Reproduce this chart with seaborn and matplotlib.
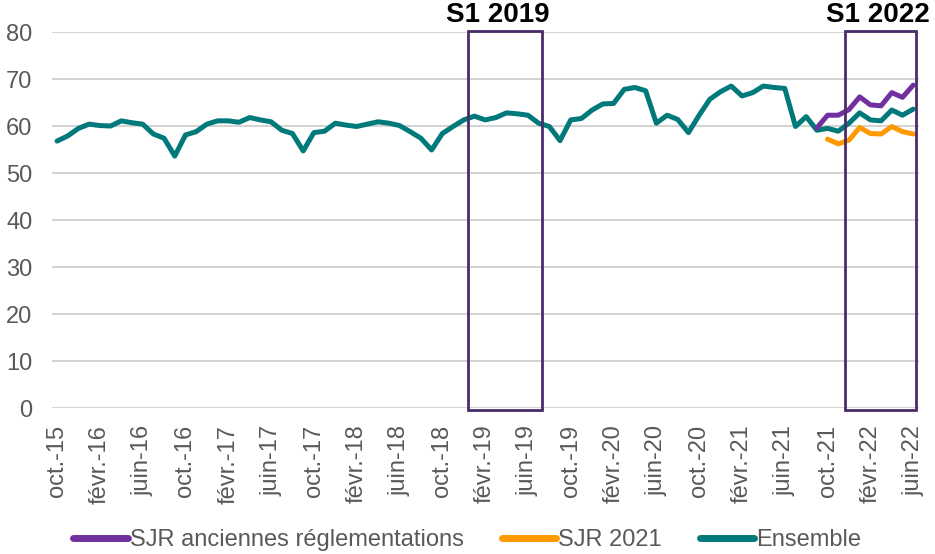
import matplotlib
matplotlib.use("Agg")
import matplotlib.pyplot as plt
import numpy as np
import pandas as pd
import seaborn as sns
from matplotlib.patches import Rectangle

# Monthly series, oct. 2015 -> juin 2022 (81 months)
ensemble = [
    56.8, 57.9, 59.5, 60.4, 60.1, 60.0, 61.1, 60.7, 60.4, 58.3, 57.4, 53.6,
    58.1, 58.8, 60.4, 61.1, 61.1, 60.8, 61.8, 61.3, 60.9, 59.1, 58.4, 54.7,
    58.6, 58.9, 60.6, 60.2, 59.9, 60.4, 60.9, 60.6, 60.1, 58.8, 57.4, 54.9,
    58.4, 59.9, 61.3, 62.1, 61.3, 61.8, 62.8, 62.6, 62.3, 60.6, 59.9, 56.9,
    61.3, 61.6, 63.4, 64.7, 64.8, 67.8, 68.2, 67.5, 60.6, 62.3, 61.4, 58.6,
    62.3, 65.7, 67.3, 68.5, 66.4, 67.1, 68.5, 68.2, 68.0, 59.9, 62.0, 59.1,
    59.5, 58.9, 60.6, 62.8, 61.3, 61.1, 63.4, 62.3, 63.6,
]
# SJR anciennes réglementations: from sept.-21 (index 71)
sjr_anciennes_start = 71
sjr_anciennes = [59.6, 62.3, 62.3, 63.5, 66.2, 64.5, 64.3, 67.1, 66.1, 68.7]
# SJR 2021: from oct.-21 (index 72)
sjr_2021_start = 72
sjr_2021 = [57.2, 56.2, 57.0, 59.7, 58.4, 58.3, 59.9, 58.8, 58.3]

tick_labels = [
    "oct.-15", "févr.-16", "juin-16", "oct.-16", "févr.-17", "juin-17",
    "oct.-17", "févr.-18", "juin-18", "oct.-18", "févr.-19", "juin-19",
    "oct.-19", "févr.-20", "juin-20", "oct.-20", "févr.-21", "juin-21",
    "oct.-21", "févr.-22", "juin-22",
]
y_ticks = [0, 10, 20, 30, 40, 50, 60, 70, 80]

# highlighted periods (month index span) and labels
boxes = [(38.4, 45.3, "S1 2019", 41.2), (73.6, 80.3, "S1 2022", 76.7)]

df = pd.concat([
    pd.DataFrame({"mois": np.arange(len(ensemble)), "valeur": ensemble,
                  "serie": "Ensemble"}),
    pd.DataFrame({"mois": np.arange(len(sjr_anciennes)) + sjr_anciennes_start,
                  "valeur": sjr_anciennes, "serie": "SJR anciennes réglementations"}),
    pd.DataFrame({"mois": np.arange(len(sjr_2021)) + sjr_2021_start,
                  "valeur": sjr_2021, "serie": "SJR 2021"}),
])

palette = {
    "SJR anciennes réglementations": "#7030A0",
    "SJR 2021": "#FF9900",
    "Ensemble": "#00797A",
}
order = ["SJR anciennes réglementations", "SJR 2021", "Ensemble"]

sns.set_theme(style="white")
plt.rcParams["font.family"] = ["Liberation Sans", "DejaVu Sans"]

fig = plt.figure(figsize=(9.35, 5.54), dpi=100)
ax = fig.add_axes([0.0553, 0.2635, 0.9271, 0.6787])

for name in ["Ensemble", "SJR anciennes réglementations", "SJR 2021"]:
    sub = df[df["serie"] == name]
    sns.lineplot(data=sub, x="mois", y="valeur", color=palette[name],
                 linewidth=3.6, ax=ax, label=name, legend=False,
                 zorder=3 if name != "Ensemble" else 2)

ax.set_xlim(-0.5, 80.5)
ax.set_ylim(0, 80)
ax.set_yticks(y_ticks)
ax.set_xticks(np.arange(0, 81, 4))
ax.set_xticklabels(tick_labels, rotation=90)
ax.set_xlabel("")
ax.set_ylabel("")
ax.grid(axis="y", color="#D0D0D0", linewidth=1.3)
ax.set_axisbelow(True)
for spine in ax.spines.values():
    spine.set_visible(False)
ax.tick_params(axis="both", length=0, labelsize=17, colors="#595959")
ax.tick_params(axis="y", pad=14)
ax.tick_params(axis="x", pad=12)

for x0, x1, label, xt in boxes:
    ax.add_patch(Rectangle((x0, -0.4), x1 - x0, 80.6, fill=False,
                           edgecolor="#4B2C6B", linewidth=2.0,
                           clip_on=False, zorder=4))
    ax.text(xt, 83.6, label, ha="center", va="center", fontsize=20,
            fontweight="bold", color="black", clip_on=False)

handles = {l.get_label(): l for l in ax.get_lines() if l.get_label() in order}
leg = fig.legend([handles[k] for k in order], order, loc="center",
                 bbox_to_anchor=(0.5, 0.0253), ncol=3, frameon=False,
                 fontsize=17, handlelength=2.3, handletextpad=0.1,
                 columnspacing=1.6)
for t in leg.get_texts():
    t.set_color("#595959")
for line in leg.get_lines():
    line.set_linewidth(5)
    line.set_solid_capstyle("round")

fig.savefig("out.png", dpi=100)
